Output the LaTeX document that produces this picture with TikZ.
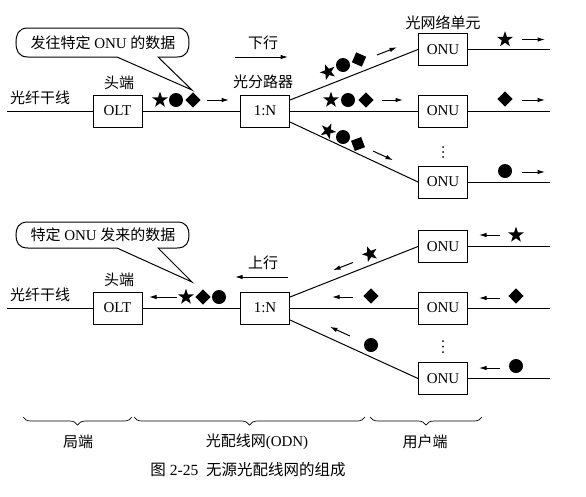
\documentclass[tikz,border=0pt]{standalone}
\usepackage{fontspec}
\setmainfont{Liberation Serif}
\newfontfamily\cjk{Noto Sans CJK SC}
\newcommand{\zh}[1]{{\cjk #1}}
\usetikzlibrary{arrows.meta,shapes.geometric,decorations.pathreplacing}
\tikzset{box/.style={draw, line width=1pt, minimum width=49pt, minimum height=32pt, inner sep=0pt}}
\tikzset{fib/.style={line width=1pt}}
\tikzset{arr/.style={line width=1pt, -{Latex[length=7.5pt,width=4.5pt]}}}
\tikzset{sstar/.style={star, star points=5, star point ratio=2.5, fill, inner sep=0pt, minimum size=16.5pt}}
\tikzset{sdot/.style={circle, fill, inner sep=0pt, minimum size=14pt}}
\tikzset{sdia/.style={diamond, fill, inner sep=0pt, minimum size=15.5pt}}
\tikzset{brc/.style={decorate, decoration={brace, mirror, amplitude=8pt}, line width=0.7pt}}

\begin{document}
\begin{tikzpicture}[x=1pt, y=-1pt, every node/.style={font=\fontsize{15}{18}\selectfont}]
\useasboundingbox (0,0) rectangle (586,496);

% downstream
\draw[fib] (117,57) -- (28,57) .. controls (18,57) and (16,50) .. (16,42.5)
  .. controls (16,35) and (18,28) .. (28,28) -- (177,28)
  .. controls (187,28) and (189,35) .. (189,42.5)
  .. controls (189,50) and (187,57) .. (177,57) -- (158,57) -- (192,90) -- cycle;
\node (msg1) at (103,42.5) {\zh{发往特定} ONU \zh{的数据}};

\node (dn) at (263,43) {\zh{下行}};
\draw[arr] (235,57) -- (288,57);

\coordinate (in1) at (7,111);
\node (trunk1) at (40,98) {\zh{光纤干线}};
\node[box] (olt1) at (117.5,111) {OLT};
\node (head1) at (119,83) {\zh{头端}};
\node[box] (spl1) at (265,111) {1:N};
\node (splab) at (263,82) {\zh{光分路器}};
\node[box] (onu1a) at (443,49.5) {ONU};
\node[box] (onu1b) at (443,111) {ONU};
\node[box] (onu1c) at (443,182) {ONU};
\node (onulab) at (443,23) {\zh{光网络单元}};
\coordinate (out1a) at (550,49.5);
\coordinate (out1b) at (550,111);
\coordinate (out1c) at (550,182);

\draw[fib] (in1) -- (olt1);
\draw[fib] (olt1) -- (spl1);
\draw[fib] ([yshift=11pt]spl1.east) -- (onu1a.west);
\draw[fib] (spl1) -- (onu1b);
\draw[fib] ([yshift=-11pt]spl1.east) -- (onu1c.west);
\draw[fib] (onu1a) -- (out1a);
\draw[fib] (onu1b) -- (out1b);
\draw[fib] (onu1c) -- (out1c);

\node[sstar] (t1) at (160,100) {};
\node[sdot] (t2) at (176,100) {};
\node[sdia] (t3) at (193,100) {};
\draw[arr] (207,100) -- (229,100);

\node[sstar, rotate=21.4] (a1) at (328,72) {};
\node[sdot] (a2) at (343,65) {};
\node[sdia, rotate=21.4] (a3) at (359,59.5) {};
\draw[arr] (377,55) -- (397,47.2);

\node[sstar] (b1) at (331,100) {};
\node[sdot] (b2) at (348,100) {};
\node[sdia] (b3) at (366,100) {};
\draw[arr] (382,100) -- (403,100);

\node[sstar, rotate=-24.6] (c1) at (328,131) {};
\node[sdot] (c2) at (343,137) {};
\node[sdia, rotate=-24.6] (c3) at (358,144) {};
\draw[arr] (373,151) -- (393,160.2);

\foreach \y in {147,152,157} \fill (443,\y) circle (1pt);

\node[sstar] (r1) at (505,39.5) {};
\draw[arr] (522,39.5) -- (545,39.5);
\node[sdia] (r2) at (505,99) {};
\draw[arr] (522,100) -- (545,100);
\node[sdot] (r3) at (505,171) {};
\draw[arr] (522,172) -- (545,172);

% upstream
\draw[fib] (117,248) -- (28,248) .. controls (18,248) and (16,241.5) .. (16,235)
  .. controls (16,228.5) and (18,222) .. (28,222) -- (177,222)
  .. controls (187,222) and (189,228.5) .. (189,235)
  .. controls (189,241.5) and (187,248) .. (177,248) -- (158,248) -- (192,282) -- cycle;
\node (msg2) at (103,235) {\zh{特定} ONU \zh{发来的数据}};

\node (up) at (263,263) {\zh{上行}};
\draw[arr] (288,277) -- (235,277);

\coordinate (in2) at (7,308);
\node (trunk2) at (40,295) {\zh{光纤干线}};
\node[box] (olt2) at (117.5,308) {OLT};
\node (head2) at (119,280) {\zh{头端}};
\node[box] (spl2) at (265,308) {1:N};
\node[box] (onu2a) at (443,246.5) {ONU};
\node[box] (onu2b) at (443,308) {ONU};
\node[box] (onu2c) at (443,378.5) {ONU};
\coordinate (out2a) at (550,246.5);
\coordinate (out2b) at (550,308);
\coordinate (out2c) at (550,378.5);

\draw[fib] (in2) -- (olt2);
\draw[fib] (olt2) -- (spl2);
\draw[fib] ([yshift=11pt]spl2.east) -- (onu2a.west);
\draw[fib] (spl2) -- (onu2b);
\draw[fib] ([yshift=-12pt]spl2.east) -- (onu2c.west);
\draw[fib] (onu2a) -- (out2a);
\draw[fib] (onu2b) -- (out2b);
\draw[fib] (onu2c) -- (out2c);

\draw[arr] (177,297) -- (149,297);
\node[sstar] (u1) at (186,297) {};
\node[sdia] (u2) at (203,297) {};
\node[sdot] (u3) at (219,297) {};

\node[sstar, rotate=21.2] (d1) at (370,254) {};
\draw[arr] (353,262.5) -- (333,270.2);
\node[sdia] (d2) at (371,296) {};
\draw[arr] (353,297) -- (332,297);
\node[sdot] (d3) at (371,345) {};
\draw[arr] (350,336) -- (330,326.8);

\foreach \y in {341,346.5,352} \fill (443,\y) circle (1pt);

\draw[arr] (500,235) -- (479,235);
\node[sstar] (v1) at (516,235) {};
\draw[arr] (500,298) -- (479,298);
\node[sdia] (v2) at (516,296) {};
\draw[arr] (500,368) -- (479,368);
\node[sdot] (v3) at (516,366) {};

% parts
\draw[brc] (23,417) -- (132,417);
\draw[brc] (134,417) -- (365,417);
\draw[brc] (370,417) -- (482,417);
\node (co) at (78,442) {\zh{局端}};
\node (odn) at (257,442) {\zh{光配线网}(ODN)};
\node (cu) at (425,442) {\zh{用户端}};
\node[font=\fontsize{15.5}{18}\selectfont] (cap) at (248,470) {\zh{图} 2-25 \ \zh{无源光配线网的组成}};

\end{tikzpicture}
\end{document}
